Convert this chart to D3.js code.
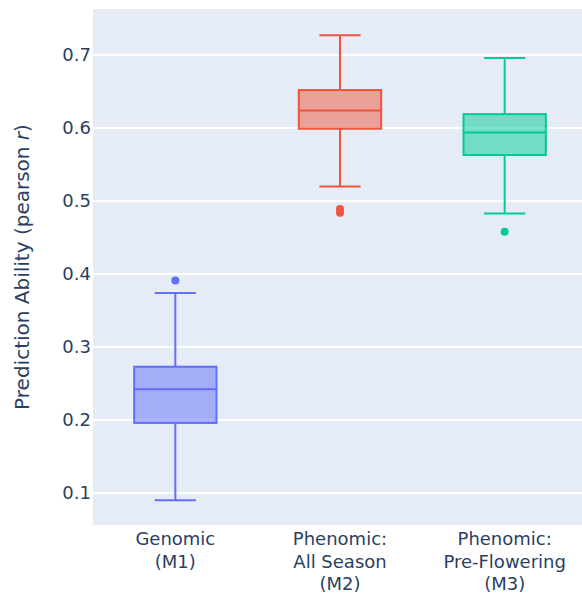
<!DOCTYPE html>
<html>
<head>
<meta charset="utf-8">
<script src="https://cdn.jsdelivr.net/npm/d3@7"></script>
<style>
  body { margin: 0; background: #fff; }
  text { font-family: "DejaVu Sans", Verdana, sans-serif; fill: #2a3f5f; }
</style>
</head>
<body>
<svg id="chart" width="582" height="596"></svg>
<script>
// categories (each label line separately)
var categories = ["M1", "M2", "M3"];
var catLabels = [["Genomic", "(M1)"], ["Phenomic:", "All Season", "(M2)"], ["Phenomic:", "Pre-Flowering", "(M3)"]];
var colors = ["#636efa", "#EF553B", "#00cc96"];

// box stats
var lowerFence = [0.090, 0.520, 0.483];
var q1 = [0.196, 0.599, 0.563];
var median = [0.242, 0.624, 0.594];
var q3 = [0.273, 0.652, 0.619];
var upperFence = [0.374, 0.727, 0.696];
var outliers = [[0.391], [0.484, 0.489], [0.458]];

var yTicks = [0.1, 0.2, 0.3, 0.4, 0.5, 0.6, 0.7];

var svg = d3.select("#chart");
var margin = { top: 9, left: 93, bottom: 71 };
var plotRight = 587;
var height = 596 - margin.bottom;

var x = d3.scaleBand().domain(categories).range([margin.left, plotRight]).padding(0);
var y = d3.scaleLinear().domain([0.0562, 0.763]).range([height, margin.top]);

// background
svg.append("rect")
    .attr("x", margin.left).attr("y", margin.top)
    .attr("width", plotRight - margin.left).attr("height", height - margin.top)
    .attr("fill", "#E5ECF6");

// grid
svg.append("g").selectAll("line").data(yTicks).enter().append("line")
    .attr("x1", margin.left).attr("x2", plotRight)
    .attr("y1", d => y(d)).attr("y2", d => y(d))
    .attr("stroke", "#fff").attr("stroke-width", 2);

// y axis labels
var yAxis = svg.append("g")
    .attr("transform", "translate(" + margin.left + ",0)")
    .call(d3.axisLeft(y).tickValues(yTicks).tickSize(0).tickPadding(2).tickFormat(d3.format(".1f")));
yAxis.select(".domain").remove();
yAxis.selectAll("text").attr("font-size", 18).attr("fill", "#2a3f5f")
    .style("font-family", '"DejaVu Sans", Verdana, sans-serif');

// y title
svg.append("text")
    .attr("transform", "translate(29," + ((margin.top + height) / 2) + ") rotate(-90)")
    .attr("text-anchor", "middle")
    .attr("font-size", 20)
    .html('Prediction Ability (pearson <tspan font-style="italic">r</tspan>)');

// x labels
var xl = svg.append("g").selectAll("text").data(categories).enter().append("text")
    .attr("text-anchor", "middle")
    .attr("font-size", 18)
    .attr("x", d => x(d) + x.bandwidth() / 2)
    .attr("y", 545);
xl.selectAll("tspan").data((d, i) => catLabels[i]).enter().append("tspan")
    .attr("x", function() { return this.parentNode.getAttribute("x"); })
    .attr("dy", (d, i) => i === 0 ? 0 : 22.5)
    .text(d => d);

// boxes
var boxW = x.bandwidth() * 0.5;
var capW = boxW * 0.5;
var g = svg.append("g").selectAll("g").data(categories).enter().append("g")
    .attr("transform", d => "translate(" + (x(d) + x.bandwidth() / 2) + ",0)");

g.each(function(d, i) {
    var s = d3.select(this);
    var c = colors[i];
    // whiskers
    s.append("line").attr("x1", 0).attr("x2", 0)
        .attr("y1", y(q3[i])).attr("y2", y(upperFence[i]))
        .attr("stroke", c).attr("stroke-width", 2);
    s.append("line").attr("x1", 0).attr("x2", 0)
        .attr("y1", y(q1[i])).attr("y2", y(lowerFence[i]))
        .attr("stroke", c).attr("stroke-width", 2);
    [upperFence[i], lowerFence[i]].forEach(function(v) {
        s.append("line").attr("x1", -capW / 2).attr("x2", capW / 2)
            .attr("y1", y(v)).attr("y2", y(v))
            .attr("stroke", c).attr("stroke-width", 2);
    });
    // box
    s.append("rect")
        .attr("x", -boxW / 2).attr("width", boxW)
        .attr("y", y(q3[i])).attr("height", y(q1[i]) - y(q3[i]))
        .attr("fill", c).attr("fill-opacity", 0.5)
        .attr("stroke", c).attr("stroke-width", 2);
    s.append("line").attr("x1", -boxW / 2).attr("x2", boxW / 2)
        .attr("y1", y(median[i])).attr("y2", y(median[i]))
        .attr("stroke", c).attr("stroke-width", 2);
    // outliers
    s.selectAll("circle").data(outliers[i]).enter().append("circle")
        .attr("cx", 0).attr("cy", v => y(v)).attr("r", 4)
        .attr("fill", c);
});
</script>
</body>
</html>
